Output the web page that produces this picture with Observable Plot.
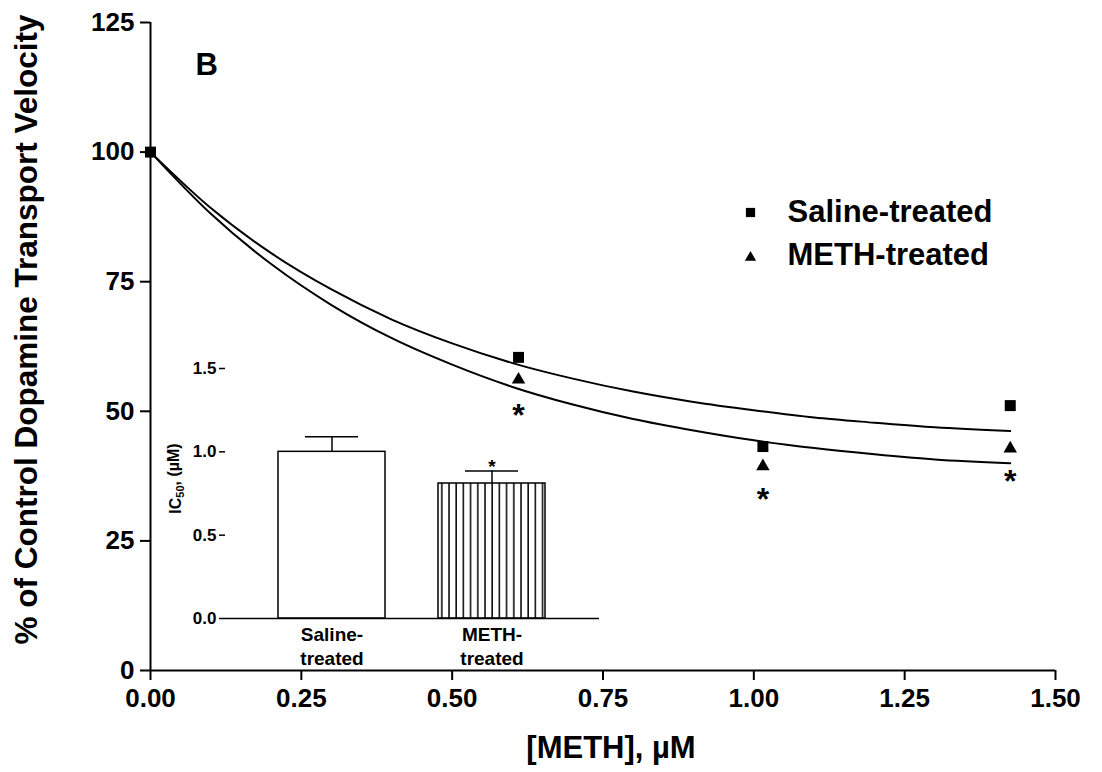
<!DOCTYPE html>
<html>
<head>
<meta charset="utf-8">
<script src="https://cdn.jsdelivr.net/npm/d3@7"></script>
<script src="https://cdn.jsdelivr.net/npm/@observablehq/plot@0.6"></script>
<style>
  html, body { margin: 0; padding: 0; background: #fff; }
  #wrap { position: relative; width: 1102px; height: 772px; font-family: "Liberation Sans", Arial, sans-serif; }
  #wrap svg { position: absolute; }
</style>
</head>
<body>
<div id="wrap"></div>
<script>
// ---- Main chart data ----
const conc = [0, 0.61, 1.015, 1.425];
const salineVals = [100, 60.4, 43.2, 51.1];
const methVals = [100, 56.1, 39.4, 42.8];
const sigConc = [0.61, 1.015, 1.425];
const sigY = [50.7, 34.5, 38.0];
// fitted curves
const fitX = [0, 0.1, 0.2, 0.3, 0.4, 0.5, 0.6, 0.7, 0.8, 0.9, 1.0, 1.1, 1.2, 1.3, 1.425];
const fitSaline = [100, 89.2, 80.5, 73.5, 67.7, 63.1, 59.3, 56.3, 53.8, 51.8, 50.2, 48.8, 47.8, 46.9, 46.2];
const fitMeth = [100, 88.1, 78.4, 70.5, 64.1, 59.0, 54.7, 51.3, 48.5, 46.3, 44.4, 42.9, 41.7, 40.7, 40.0];
const xTicks = [0, 0.25, 0.5, 0.75, 1.0, 1.25, 1.5];
const yTicks = [0, 25, 50, 75, 100, 125];
const seriesNames = ["Saline-treated", "METH-treated"];

// ---- Inset data ----
const groups = ["Saline-treated", "METH-treated"];
const groupLabels = ["Saline-\ntreated", "METH-\ntreated"];
const ic50 = [1.0, 0.81];
const ic50Sem = [0.09, 0.075];
const insetTicks = [0, 0.5, 1.0, 1.5];

const font = '"Liberation Sans", Arial, sans-serif';

const salinePts = conc.map((x, i) => ({x, y: salineVals[i]}));
const methPts = conc.map((x, i) => ({x, y: methVals[i]}));
const sigPts = sigConc.map((x, i) => ({x, y: sigY[i]}));
const fitS = fitX.map((x, i) => ({x, y: fitSaline[i]}));
const fitM = fitX.map((x, i) => ({x, y: fitMeth[i]}));

const main = Plot.plot({
  width: 1102,
  height: 772,
  marginLeft: 150,
  marginRight: 47,
  marginTop: 22,
  marginBottom: 102,
  style: {fontFamily: font, fontWeight: "bold", color: "#000", background: "transparent"},
  x: {domain: [0, 1.5]},
  y: {domain: [0, 125]},
  marks: [
    Plot.axisY({ticks: yTicks, tickSize: 10, tickPadding: 6, fontSize: 26, strokeWidth: 2, label: null}),
    Plot.axisX({ticks: xTicks, tickSize: 10, tickPadding: 8, fontSize: 26, strokeWidth: 2, tickFormat: d3.format(".2f"), label: null}),
    Plot.ruleX([0], {stroke: "#000", strokeWidth: 2}),
    Plot.ruleY([0], {stroke: "#000", strokeWidth: 2}),
    Plot.line(fitS, {x: "x", y: "y", stroke: "#000", strokeWidth: 2, curve: "monotone-x"}),
    Plot.line(fitM, {x: "x", y: "y", stroke: "#000", strokeWidth: 2, curve: "monotone-x"}),
    Plot.dot(salinePts, {x: "x", y: "y", symbol: "square", r: 6.2, fill: "#000", stroke: "none"}),
    Plot.dot(methPts.slice(1), {x: "x", y: "y", symbol: "triangle", r: 5, fill: "#000", stroke: "none"}),
    Plot.text(sigPts, {x: "x", y: "y", text: () => "*", fontSize: 32, fontWeight: "bold", dy: 8}),
    // panel letter
    Plot.text(["B"], {frameAnchor: "top-left", dx: 45, dy: 43, textAnchor: "start", lineAnchor: "middle", fontSize: 31, fontWeight: "bold"}),
    // legend
    Plot.dot([seriesNames[0]], {frameAnchor: "top-left", dx: 600, dy: 190, symbol: "square", r: 5.2, fill: "#000", stroke: "none"}),
    Plot.dot([seriesNames[1]], {frameAnchor: "top-left", dx: 600, dy: 235, symbol: "triangle", r: 4.2, fill: "#000", stroke: "none"}),
    Plot.text([seriesNames[0]], {frameAnchor: "top-left", dx: 637, dy: 190, textAnchor: "start", lineAnchor: "middle", fontSize: 31, fontWeight: "bold"}),
    Plot.text([seriesNames[1]], {frameAnchor: "top-left", dx: 637, dy: 233, textAnchor: "start", lineAnchor: "middle", fontSize: 31, fontWeight: "bold"}),
    // axis titles
    Plot.text(["% of Control Dopamine Transport Velocity"], {frameAnchor: "left", rotate: -90, dx: -124, dy: -17, textAnchor: "middle", lineAnchor: "middle", fontSize: 31.5, fontWeight: "bold"}),
    Plot.text(["[METH], \u00B5M"], {frameAnchor: "bottom", dx: 8, dy: 78, textAnchor: "middle", lineAnchor: "middle", fontSize: 31, fontWeight: "bold"})
  ]
});
main.style.left = "0px";
main.style.top = "0px";

// ---- Inset ----
const insetData = groups.map((g, i) => ({g, v: ic50[i], top: ic50[i] + ic50Sem[i]}));
const inset = Plot.plot({
  width: 460,
  height: 320,
  marginLeft: 65,
  marginRight: 21,
  marginTop: 18,
  marginBottom: 52,
  style: {fontFamily: font, fontWeight: "bold", color: "#000", background: "transparent"},
  x: {domain: groups, padding: 0.33},
  y: {domain: [0, 1.5]},
  marks: [
    Plot.axisY({ticks: insetTicks, tickSize: 6, tickPadding: 3, fontSize: 17, strokeWidth: 1.5, tickFormat: d3.format(".1f"), label: null}),
    Plot.axisX({tickSize: 0, tickPadding: 6, fontSize: 19, lineHeight: 1.25, tickFormat: (d) => groupLabels[groups.indexOf(d)], label: null}),
    Plot.ruleX(insetData, {x: "g", y1: "v", y2: "top", stroke: "#000", strokeWidth: 1.5}),
    Plot.tickY(insetData, {x: "g", y: "top", stroke: "#000", strokeWidth: 1.5, insetLeft: 27, insetRight: 27}),
    Plot.barY(insetData.slice(0, 1), {x: "g", y: "v", fill: "#fff", stroke: "#000", strokeWidth: 1.5}),
    Plot.barY(insetData.slice(1), {x: "g", y: "v", fill: "url(#vhatch)", stroke: "#000", strokeWidth: 1.5}),
    Plot.ruleX([0], {stroke: "#000", strokeWidth: 1.5}),
    Plot.ruleY([0], {stroke: "#000", strokeWidth: 1.5}),
    Plot.text(insetData.slice(1), {x: "g", y: "top", text: () => "*", fontSize: 19, fontWeight: "bold", dy: -4}),
    Plot.text(["IC50, (\u00B5M)"], {frameAnchor: "left", rotate: -90, dx: -50, dy: -15, textAnchor: "middle", lineAnchor: "middle", fontSize: 16, fontWeight: "bold"})
  ]
});
inset.style.left = "160px";
inset.style.top = "350px";
// hatch pattern definition
const defs = d3.select(inset).insert("defs", ":first-child");
const pat = defs.append("pattern").attr("id", "vhatch").attr("patternUnits", "userSpaceOnUse")
  .attr("width", 7.2).attr("height", 10);
pat.append("rect").attr("width", 7.2).attr("height", 10).attr("fill", "#fff");
pat.append("line").attr("x1", 1).attr("x2", 1).attr("y1", 0).attr("y2", 10).attr("stroke", "#000").attr("stroke-width", 1.5);

// subscript "50" in the inset's y label
d3.select(inset).selectAll("text").filter(function () { return this.textContent === "IC50, (\u00B5M)"; })
  .each(function () {
    const t = d3.select(this);
    t.text(null);
    t.append("tspan").text("IC");
    t.append("tspan").attr("dy", "0.3em").attr("font-size", "11").text("50");
    t.append("tspan").attr("dy", "-0.3em").text(", (\u00B5M)");
  });

const wrap = document.getElementById("wrap");
wrap.appendChild(main);
wrap.appendChild(inset);
</script>
</body>
</html>
